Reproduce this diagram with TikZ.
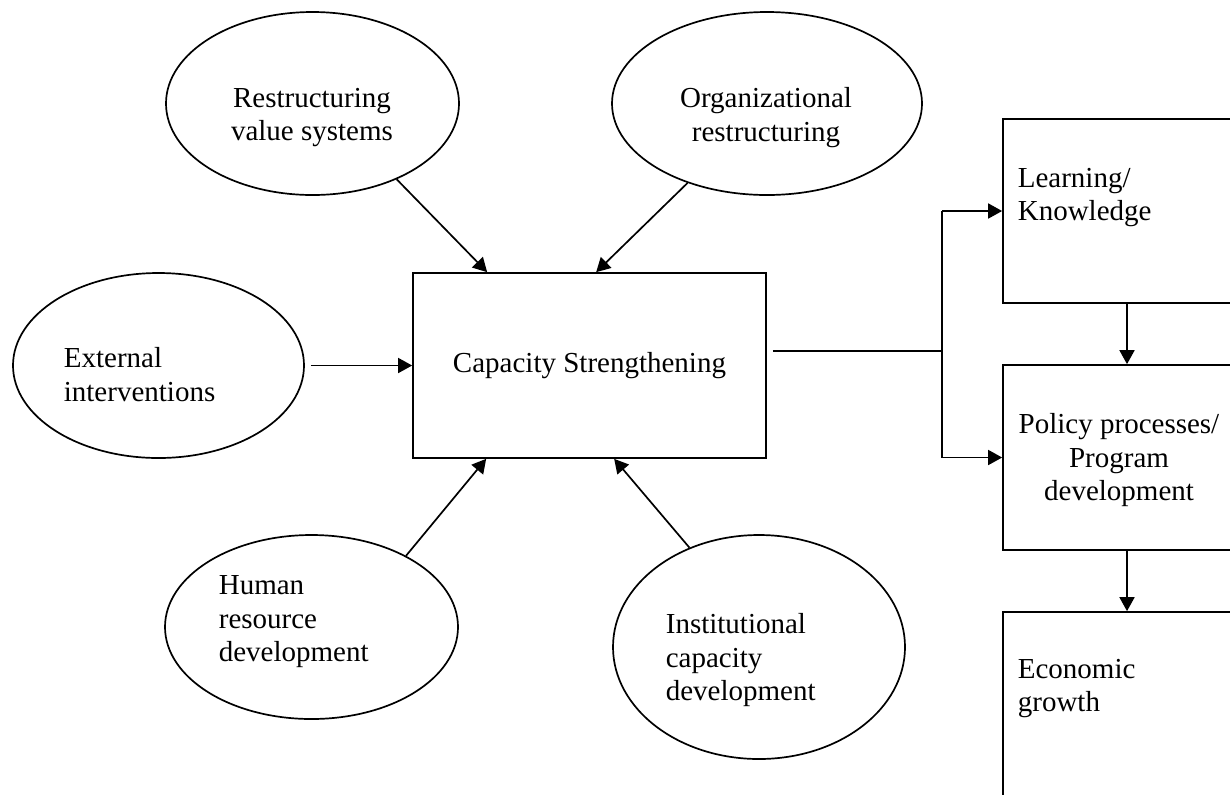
\documentclass[tikz,border=0pt]{standalone}
\usepackage{fontspec}
\setmainfont{Liberation Serif}
\usetikzlibrary{shapes.geometric,arrows.meta,calc}
\begin{document}
\begin{tikzpicture}[x=0.5pt,y=-0.5pt,
  line width=0.85pt,
  oval/.style={draw,ellipse,inner sep=0pt},
  box/.style={draw,rectangle,inner sep=0pt},
  txt/.style={inner sep=0pt,font=\fontsize{14.5}{16.7}\selectfont},
  arr/.style={-{Triangle[length=7pt,width=7.5pt]}}]
\clip (0,0) rectangle (1230,794);
% ellipses
\node[oval,minimum width=146.5pt,minimum height=91.5pt] (rv) at (312.5,103.5) {};
\node[oval,minimum width=155pt,minimum height=91.5pt] (og) at (767,103.5) {};
\node[oval,minimum width=145.5pt,minimum height=92.5pt] (ext) at (158.5,365.5) {};
\node[oval,minimum width=146.5pt,minimum height=92pt] (hr) at (311.5,627) {};
\node[oval,minimum width=146pt,minimum height=112pt] (ic) at (759,647) {};
% boxes
\node[box,txt,minimum width=176.5pt,minimum height=92.5pt] (cs) at (589.5,365.5) {Capacity Strengthening};
\node[box,minimum width=124pt,minimum height=92pt] (lk) at (1127,211) {};
\node[box,minimum width=124pt,minimum height=92.5pt] (pp) at (1127,457.5) {};
\node[box,minimum width=124pt,minimum height=92.5pt] (eg) at (1127,704.5) {};
% texts
\node[txt,anchor=north,align=center] (rvT) at (312,87) {Restructuring\\value systems};
\node[txt,anchor=north,align=center] (ogT) at (766,87) {Organizational\\restructuring};
\node[txt,anchor=north west,align=left] (extT) at (63,347) {External\\interventions};
\node[txt,anchor=north west,align=left] (hrT) at (218,575) {Human\\resource\\development};
\node[txt,anchor=north west,align=left] (icT) at (665,613) {Institutional\\capacity\\development};
\node[txt,anchor=north west,align=left] (lkT) at (1017,167) {Learning/\\Knowledge};
\node[txt,anchor=north,align=center] (ppT) at (1119,413) {Policy processes/\\Program\\development};
\node[txt,anchor=north west,align=left] (egT) at (1017,658) {Economic\\growth};
% connectors into Capacity Strengthening
\draw[arr] (rv.-42) -- ($(cs.north west)+(75,0)$);
\draw[arr] (og.-135) -- ($(cs.north west)+(184,0)$);
\draw[arr] ($(ext.east)+(6,0)$) -- (cs.west);
\draw[arr] (hr.37) -- ($(cs.south west)+(74,0)$);
\draw[arr] (ic.125.6) -- ($(cs.south west)+(202,0)$);
% connectors to the right
\coordinate (j) at (942,351);
\draw ($(cs.east |- j)+(6,0)$) -- (j);
\draw[arr] (lk.west -| j) -- (lk.west);
\draw[arr] (lk.west -| j) -- (pp.west -| j) -- (pp.west);
\draw[arr] (lk.south) -- (pp.north);
\draw[arr] (pp.south) -- (eg.north);
\end{tikzpicture}
\end{document}
